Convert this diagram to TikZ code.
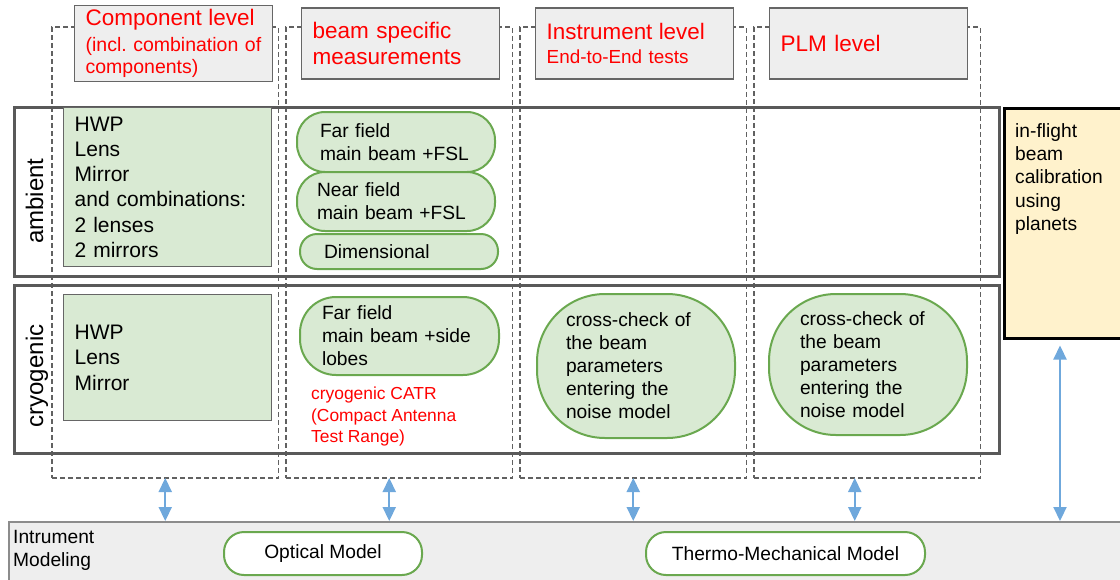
\documentclass[tikz,border=0pt]{standalone}
\usepackage{fontspec}
\setmainfont{Liberation Sans}
\usetikzlibrary{arrows.meta, positioning}
\definecolor{hdrgray}{HTML}{EEEEEE}
\definecolor{cellgreen}{HTML}{D9EAD3}
\definecolor{edgegreen}{HTML}{6AA84F}
\definecolor{flightyellow}{HTML}{FFF2CC}
\definecolor{linkblue}{HTML}{6FA8DC}
\definecolor{framegray}{HTML}{595959}
\frenchspacing

\begin{document}
\begin{tikzpicture}[x=1pt, y=-1pt]
\tikzset{head/.style={rectangle, align=left, text width=176pt, inner xsep=11pt, minimum height=71pt, fill=hdrgray, draw=black!60, line width=1.3pt, text=red, anchor=west},
		col/.style={rectangle, draw=black!62, dash pattern=on 5pt off 3pt, line width=1.1pt, minimum width=226.5pt, minimum height=451pt, inner sep=0pt, outer sep=0pt},
		row/.style={rectangle, draw=framegray, line width=2.5pt, minimum width=985pt, inner sep=0pt, anchor=north west},
		comp/.style={rectangle, align=left, text width=186pt, inner xsep=11pt, fill=cellgreen, draw=black!60, line width=1.3pt, font=\fontsize{21}{25.3}\selectfont, anchor=north west},
		meas/.style={rectangle, align=left, fill=cellgreen, draw=edgegreen, line width=2pt, outer sep=0pt, font=\fontsize{19.2}{23}\selectfont, anchor=north west},
		model/.style={rectangle, rounded corners=20pt, fill=white, draw=edgegreen, line width=2pt, minimum height=43pt, font=\fontsize{19.2}{23}\selectfont, anchor=north west},
		side/.style={rotate=90, anchor=base, font=\fontsize{24}{28}\selectfont},
		link/.style={{Triangle[width=13pt,length=14pt]}-{Triangle[width=13pt,length=14pt]}, draw=linkblue, fill=linkblue, line width=2.2pt}}
\useasboundingbox (0,0) rectangle (1120,579);
\clip (0,0) rectangle (1120,579);

% level columns
\node[col, anchor=north west] (C1) at (52,27) {};
\node[col, right=7.5pt of C1] (C2) {};
\node[col, right=7.5pt of C2] (C3) {};
\node[col, right=7.5pt of C3] (C4) {};

% headers
\node[head, font=\fontsize{19.5}{22.5}\selectfont] (CL) at (74,43.5) {{\fontsize{22.5}{26}\selectfont Component level}\\[3.5pt](incl. combination of\\components)};
\node[head, font=\fontsize{22.5}{26}\selectfont] (BSM) at (301,43.5) {beam specific\\measurements};
\node[head, font=\fontsize{18.9}{21}\selectfont] (IL) at (535,43.5) {{\fontsize{22.4}{26}\selectfont Instrument level}\\[3pt]End-to-End tests};
\node[head, font=\fontsize{22.5}{26}\selectfont] (PLM) at (769,43.5) {PLM level};

% rows
\node[row, minimum height=169pt] (AMB) at (13,106) {};
\node[row, minimum height=168pt] (CRY) at (13,284) {};
\node[side] (AMBL) at (43,201) {ambient};
\node[side] (CRYL) at (43,376) {cryogenic};

% component level
\node[comp, minimum height=159pt] (CA) at (63,107) {HWP\\Lens\\Mirror\\and combinations:\\2 lenses\\2 mirrors};
\node[comp, minimum height=126pt] (CC) at (63,294) {HWP\\Lens\\Mirror};

% beam specific
\node[meas, text width=152pt, inner xsep=23pt, minimum height=60pt, rounded corners=28pt] (FFA) at (297,112) {Far field\\main beam +FSL};
\node[meas, text width=158pt, inner xsep=20pt, minimum height=59pt, rounded corners=28pt, below=0pt of FFA] (NFA) {Near field\\main beam +FSL};
\node[meas, text width=150pt, inner xsep=24pt, minimum height=35pt, rounded corners=17pt, below=3pt of NFA, xshift=3pt, text depth=0pt] (DIM) {Dimensional};
\node[meas, text width=155pt, inner xsep=22pt, minimum height=78pt, rounded corners=36pt] (FFC) at (300,297) {Far field\\main beam +side\\lobes};
\node[anchor=north west, align=left, inner sep=0pt, text=red, font=\fontsize{17.4}{21.5}\selectfont] (CATR) at (311,387) {cryogenic CATR\\(Compact Antenna\\Test Range)};

% instrument and PLM level
\node[meas, text width=140pt, inner xsep=29pt, minimum height=144pt, rounded corners=68pt] (XC3) at (537,294) {cross-check of\\the beam\\parameters\\entering the\\noise model};
\node[meas, text width=136pt, inner xsep=31pt, minimum height=141pt, rounded corners=67pt] (XC4) at (769,294) {cross-check of\\the beam\\parameters\\entering the\\noise model};

% in-flight
\node[rectangle, fill=flightyellow, draw=black, line width=2.5pt, minimum width=150pt, minimum height=230pt, anchor=north west] (FLT) at (1003,107) {};
\node[anchor=north west, align=left, inner sep=0pt, font=\fontsize{19.2}{23.3}\selectfont] (FLTT) at (1015,123) {in-flight\\beam\\calibration\\using\\planets};

% modeling band
\node[rectangle, fill=hdrgray, draw=black!45, line width=1.5pt, minimum width=1130pt, minimum height=80pt, anchor=north west] (IM) at (8,521) {};
\node[anchor=north west, align=left, inner sep=0pt, font=\fontsize{19.2}{23}\selectfont] (IMT) at (13,530) {Intrument\\Modeling};
\node[model, minimum width=198pt] (OM) at (223,531) {Optical Model};
\node[model, minimum width=279pt] (TMM) at (645,531) {Thermo-Mechanical Model};

% links
\coordinate (A2) at ([xshift=-10pt]C2.south);
\coordinate (A4) at ([xshift=-12.5pt]C4.south);
\coordinate (A5) at ([xshift=57pt]FLT.south west);
\draw[link] (C1.south) -- (C1.south |- IM.north);
\draw[link] (A2) -- (A2 |- IM.north);
\draw[link] (C3.south) -- (C3.south |- IM.north);
\draw[link] (A4) -- (A4 |- IM.north);
\draw[link, shorten <=6pt] (A5) -- (A5 |- IM.north);
\end{tikzpicture}
\end{document}
